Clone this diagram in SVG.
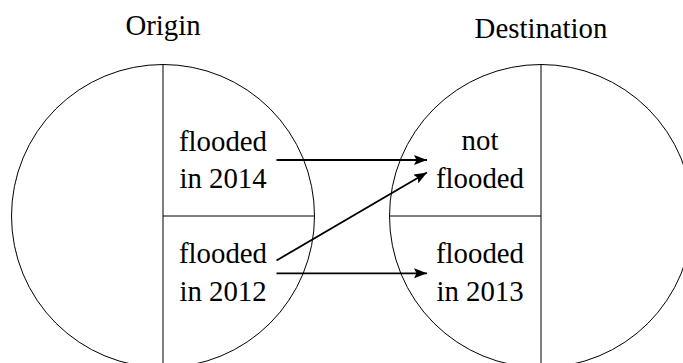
<svg xmlns="http://www.w3.org/2000/svg" width="683" height="363" viewBox="0 0 683 363">
<style>
.shape{fill:none;stroke:#000;stroke-width:1}
.conn{fill:none;stroke:#000;stroke-width:1.8}
text{font-family:"Liberation Serif","DejaVu Serif",serif;font-size:28.8px;fill:#000;text-anchor:middle}
</style>
<defs>
<marker id="ah" viewBox="0 0 13 10" refX="13" refY="5" markerWidth="13" markerHeight="10" markerUnits="userSpaceOnUse" orient="auto">
<path d="M0,0 L13,5 L0,10 L2.5,5 Z" fill="#000"/>
</marker>
</defs>
<rect width="683" height="363" fill="#fff"/>
<g id="origin">
<circle class="shape" cx="163" cy="216" r="151.5"/>
<line class="shape" x1="163" y1="64.5" x2="163" y2="367.5"/>
<line class="shape" x1="163" y1="216" x2="314.5" y2="216"/>
<text x="163" y="35">Origin</text>
</g>
<g id="destination">
<circle class="shape" cx="541" cy="216" r="151.5"/>
<line class="shape" x1="541" y1="64.5" x2="541" y2="367.5"/>
<line class="shape" x1="389.5" y1="216" x2="541" y2="216"/>
<text x="541" y="38">Destination</text>
</g>
<g id="o2014">
<text x="223" y="151">flooded</text>
<text x="223" y="188">in 2014</text>
</g>
<g id="o2012">
<text x="223" y="263">flooded</text>
<text x="223" y="300.5">in 2012</text>
</g>
<g id="dnot">
<text x="480" y="150">not</text>
<text x="480" y="188">flooded</text>
</g>
<g id="d2013">
<text x="480" y="263">flooded</text>
<text x="480" y="300.5">in 2013</text>
</g>
<g id="connectors">
<line class="conn" x1="276.5" y1="160" x2="427" y2="160" marker-end="url(#ah)"/>
<line class="conn" x1="276.5" y1="260.5" x2="427" y2="172.5" marker-end="url(#ah)"/>
<line class="conn" x1="276.5" y1="273.3" x2="427" y2="273.3" marker-end="url(#ah)"/>
</g>
</svg>
